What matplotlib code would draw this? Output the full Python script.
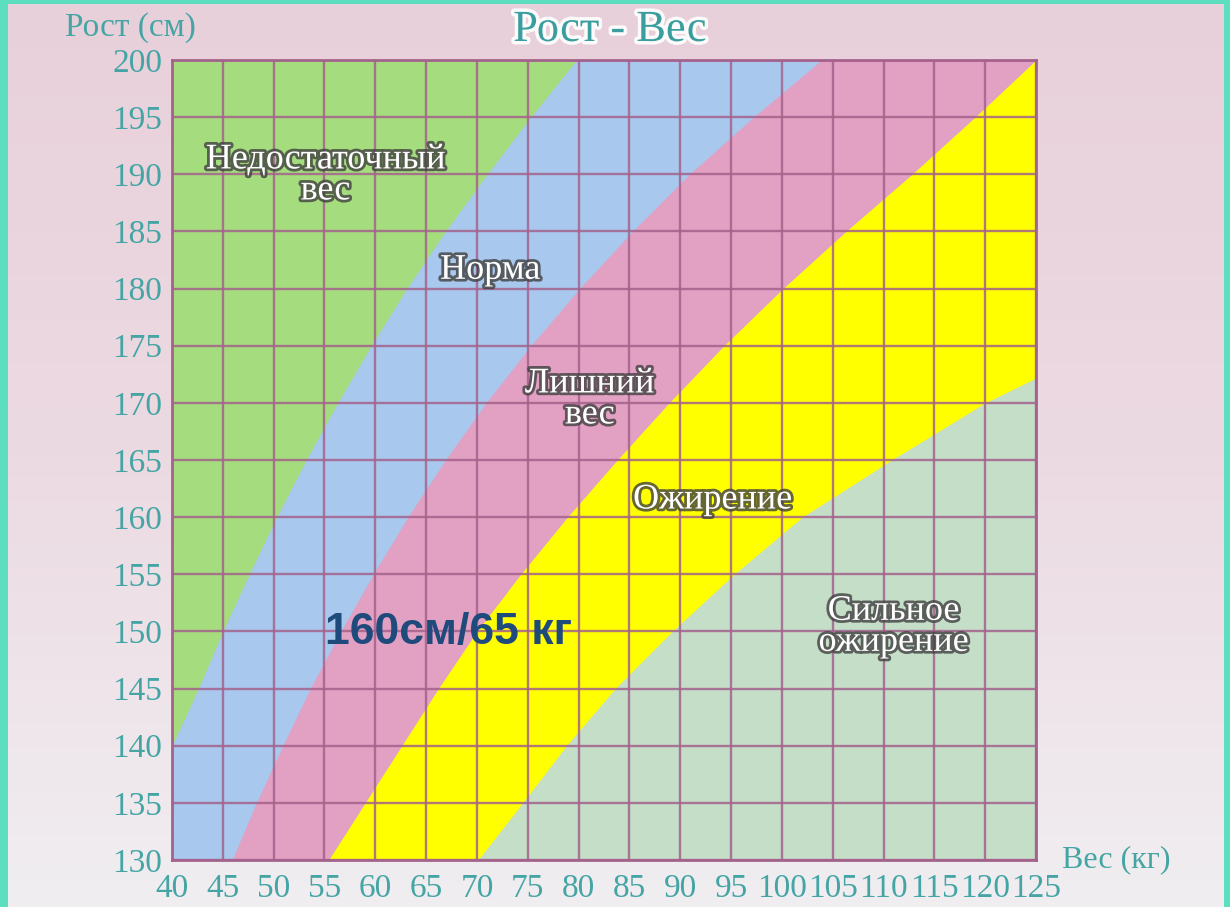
import numpy as np
import matplotlib.pyplot as plt
from matplotlib import patheffects as pe
from matplotlib.colors import LinearSegmentedColormap

plt.rcParams['font.family'] = ['Liberation Serif', 'DejaVu Serif']

# heights (cm) and the weight (kg) where each zone ends
heights = [130, 135, 140, 145, 150, 155, 160, 165, 170, 175, 180, 185, 190, 195, 200]
underweight_edge = [35.6, 37.8, 40.0, 42.6, 45.0, 47.6, 50.3, 53.2, 56.3, 59.6, 63.1, 66.9, 71.0, 75.3, 79.8]
normal_edge = [45.9, 48.3, 50.9, 53.6, 56.6, 59.8, 63.2, 66.9, 70.9, 75.3, 80.1, 85.3, 90.9, 97.2, 103.9]
overweight_edge = [55.4, 59.0, 62.6, 66.2, 70.0, 74.3, 78.9, 83.8, 88.9, 94.3, 100.1, 106.3, 112.8, 119.0, 125.0]
obese_heights = [130, 135, 140, 145, 150, 155, 160, 165, 170, 175]
obese_edge = [70.1, 74.5, 78.8, 83.6, 89.2, 95.3, 102.0, 110.8, 120.0, 131.5]

weight_ticks = list(range(40, 126, 5))
height_ticks = list(range(130, 201, 5))

zone_colors = ['#a5dc7d', '#a8c8ee', '#e2a0c3', '#ffff00', '#c4dec8']
zone_labels = ['Недостаточный\nвес', 'Норма', 'Лишний\nвес', 'Ожирение', 'Сильное\nожирение']
label_pos = [(55.1, 189.9), (71.3, 181.6), (81.1, 170.3), (93.2, 161.5), (111.0, 150.4)]

teal = '#45a5a5'
grid_col = '#a4628c'

fig = plt.figure(figsize=(12.3, 9.07), dpi=100)
fig.patch.set_facecolor('#5ddfbf')

# pinkish gradient background inside the teal frame
bg = fig.add_axes([8 / 1230, 0, 1 - 14 / 1230, 1 - 4 / 907])
cmap = LinearSegmentedColormap.from_list('bg', ['#e8d0da', '#ecdae2', '#f0eef1'])
bg.imshow(np.linspace(0, 1, 256)[:, None], aspect='auto', cmap=cmap, extent=[0, 1, 0, 1])
bg.axis('off')

ax = fig.add_axes([172 / 1230, 1 - 860 / 907, 864 / 1230, 800 / 907])
x_min, x_max = weight_ticks[0], weight_ticks[-1]
ax.set_xlim(x_min, x_max)
ax.set_ylim(height_ticks[0], height_ticks[-1])

# zones drawn on top of each other, each from its left edge to the right side
ax.fill_betweenx(heights, x_min - 10, x_max, color=zone_colors[0], lw=0)
ax.fill_betweenx(heights, underweight_edge, x_max, color=zone_colors[1], lw=0)
ax.fill_betweenx(heights, normal_edge, x_max, color=zone_colors[2], lw=0)
ax.fill_betweenx(heights, overweight_edge, x_max, color=zone_colors[3], lw=0)
ax.fill_betweenx(obese_heights, obese_edge, x_max, color=zone_colors[4], lw=0)

ax.set_xticks(weight_ticks)
ax.set_yticks(height_ticks)
ax.grid(True, color=grid_col, lw=1.7, alpha=0.85)
ax.tick_params(length=0, labelsize=24, labelcolor=teal)
ax.tick_params(axis='x', pad=10)
ax.tick_params(axis='y', pad=7)
for s in ax.spines.values():
    s.set_color(grid_col)
    s.set_linewidth(2)

shadow = [pe.withStroke(linewidth=4, foreground='#404040', alpha=0.8)]
for txt, (x, y) in zip(zone_labels, label_pos):
    ax.text(x, y, txt, ha='center', va='center', fontsize=26, color='white',
            linespacing=0.92, path_effects=shadow, zorder=5)

ax.text(67.2, 149.9, '160см/65 кг', ha='center', va='center', fontsize=32,
        fontweight='bold', color='#1f4a7c', family=['Liberation Sans', 'DejaVu Sans'], zorder=6)

glow = [pe.withStroke(linewidth=5, foreground='white', alpha=0.9)]
fig.text(610 / 1230, 1 - 30 / 907, 'Рост - Вес', ha='center', va='center',
         fontsize=32, color='#3a9e9e', path_effects=glow)
fig.text(130 / 1230, 1 - 28 / 907, 'Рост (см)', ha='center', va='center',
         fontsize=24, color=teal)
fig.text(1116 / 1230, 1 - 860 / 907, 'Вес (кг)', ha='center', va='center',
         fontsize=23, color=teal)

fig.savefig('out.png', dpi=100)
